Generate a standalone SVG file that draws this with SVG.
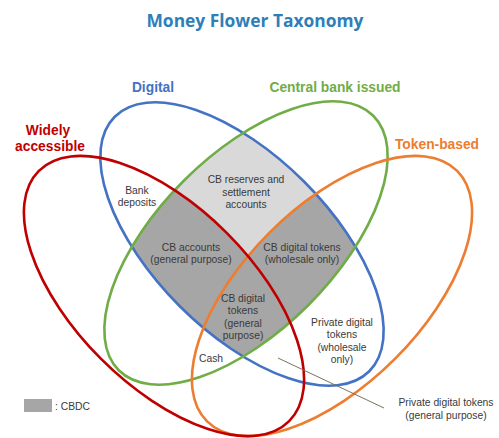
<svg xmlns="http://www.w3.org/2000/svg" width="499" height="438" viewBox="0 0 499 438">
<style>
.set{fill:none;stroke-width:2.6}
.title{font-family:"Open Sans","Liberation Sans",sans-serif;font-weight:bold;font-size:17.4px;fill:#2e7fb8;text-anchor:middle}
.cat{font-family:"Liberation Sans",sans-serif;font-weight:bold;font-size:13.8px;text-anchor:middle}
.lbl{font-family:"Liberation Sans",sans-serif;font-size:10.3px;fill:#3a3a3a;text-anchor:middle}
</style>
<defs>
<ellipse id="e-blue" cx="242" cy="244" rx="180" ry="88" transform="rotate(45 242 244)"/>
<ellipse id="e-green" cx="246" cy="243" rx="180" ry="88" transform="rotate(-45 246 243)"/>
<ellipse id="e-red" cx="164" cy="296" rx="177" ry="89" transform="rotate(45 164 296)"/>
<ellipse id="e-orange" cx="332" cy="296" rx="177" ry="89" transform="rotate(-45 332 296)"/>
<clipPath id="clip-blue"><use href="#e-blue"/></clipPath>
<clipPath id="clip-green"><use href="#e-green"/></clipPath>
</defs>
<rect width="499" height="438" fill="#ffffff"/>
<text class="title" x="255" y="27">Money Flower Taxonomy</text>
<g id="fills" clip-path="url(#clip-blue)">
<g clip-path="url(#clip-green)">
<rect width="499" height="438" fill="#d9d9d9"/>
<use href="#e-red" fill="#a6a6a6"/>
<use href="#e-orange" fill="#a6a6a6"/>
</g>
</g>
<g id="digital"><use href="#e-blue" class="set" stroke="#4472c4"/><text class="cat" x="153" y="92" fill="#4472c4">Digital</text></g>
<g id="central-bank-issued"><use href="#e-green" class="set" stroke="#70ad47"/><text class="cat" x="335" y="92" fill="#70ad47">Central bank issued</text></g>
<g id="token-based"><use href="#e-orange" class="set" stroke="#ed7d31"/><text class="cat" x="437" y="149" fill="#ed7d31">Token-based</text></g>
<g id="widely-accessible"><use href="#e-red" class="set" stroke="#c00000"/><text class="cat" fill="#c00000"><tspan x="48" y="135">Widely</tspan><tspan x="50" y="151">accessible</tspan></text></g>
<g id="bank-deposits"><text class="lbl"><tspan x="137" y="194">Bank</tspan><tspan x="137" y="206">deposits</tspan></text></g>
<g id="cb-reserves"><text class="lbl"><tspan x="246" y="183">CB reserves and</tspan><tspan x="246" y="196">settlement</tspan><tspan x="246" y="208">accounts</tspan></text></g>
<g id="cb-accounts"><text class="lbl"><tspan x="191" y="251">CB accounts</tspan><tspan x="191" y="263">(general purpose)</tspan></text></g>
<g id="cb-tokens-wholesale"><text class="lbl"><tspan x="302" y="251">CB digital tokens</tspan><tspan x="302" y="263">(wholesale only)</tspan></text></g>
<g id="cb-tokens-general"><text class="lbl"><tspan x="243" y="302">CB digital</tspan><tspan x="243" y="314">tokens</tspan><tspan x="243" y="327">(general</tspan><tspan x="243" y="339">purpose)</tspan></text></g>
<g id="cash"><text class="lbl" x="211" y="362">Cash</text></g>
<g id="private-wholesale"><text class="lbl"><tspan x="342" y="326">Private digital</tspan><tspan x="342" y="338">tokens</tspan><tspan x="342" y="351">(wholesale</tspan><tspan x="342" y="363">only)</tspan></text></g>
<g id="connectors"><line x1="278" y1="358" x2="384" y2="408" stroke="#77735c" stroke-width="1"/></g>
<g id="private-general"><text class="lbl"><tspan x="446" y="406">Private digital tokens</tspan><tspan x="446" y="419">(general purpose)</tspan></text></g>
<g id="legend"><rect x="24" y="399" width="28" height="13" fill="#a6a6a6"/><text class="lbl" x="55" y="410" style="text-anchor:start">: CBDC</text></g>
</svg>
